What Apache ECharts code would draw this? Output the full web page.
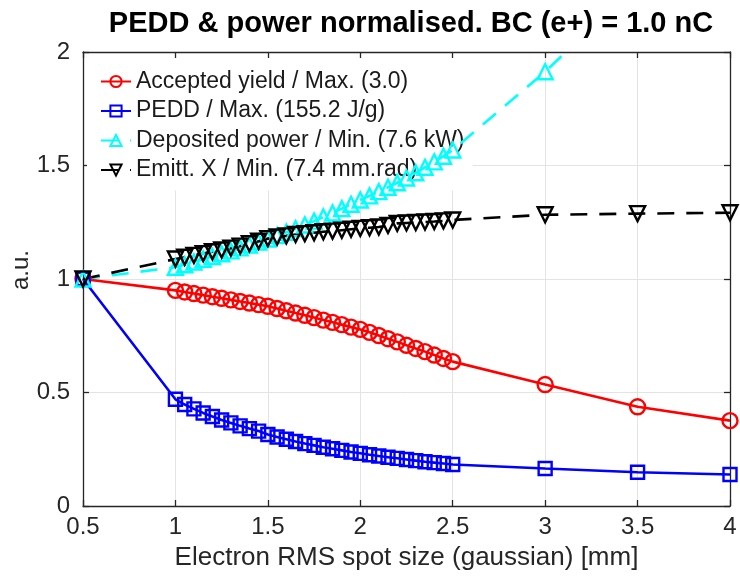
<!DOCTYPE html>
<html>
<head>
<meta charset="utf-8">
<script src="https://cdn.jsdelivr.net/npm/echarts@6/dist/echarts.min.js"></script>
<style>html,body{margin:0;padding:0;background:#fff;}#c{width:740px;height:580px;}</style>
</head>
<body>
<div id="c"></div>
<script>
const titleText = 'PEDD & power normalised. BC (e+) = 1.0 nC';
const xName = 'Electron RMS spot size (gaussian) [mm]';
const yName = 'a.u.';
const seriesNames = ['Accepted yield / Max. (3.0)', 'PEDD / Max. (155.2 J/g)', 'Deposited power / Min. (7.6 kW)', 'Emitt. X / Min. (7.4 mm.rad)'];

const spotSize = [0.5,
  1.00, 1.05, 1.10, 1.15, 1.20, 1.25, 1.30, 1.35, 1.40, 1.45,
  1.50, 1.55, 1.60, 1.65, 1.70, 1.75, 1.80, 1.85, 1.90, 1.95,
  2.00, 2.05, 2.10, 2.15, 2.20, 2.25, 2.30, 2.35, 2.40, 2.45,
  2.50, 3.0, 3.5, 4.0];

const acceptedYield = [1.000,
  0.950, 0.943, 0.936, 0.929, 0.922, 0.915, 0.908, 0.901, 0.894, 0.887,
  0.880, 0.870, 0.860, 0.850, 0.840, 0.830, 0.819, 0.809, 0.799, 0.788,
  0.778, 0.765, 0.751, 0.737, 0.723, 0.708, 0.694, 0.680, 0.665, 0.650,
  0.636, 0.535, 0.437, 0.376];

const pedd = [1.000,
  0.470, 0.447, 0.428, 0.410, 0.394, 0.379, 0.366, 0.353, 0.341, 0.330,
  0.315, 0.304, 0.294, 0.284, 0.275, 0.267, 0.259, 0.252, 0.245, 0.238,
  0.232, 0.226, 0.220, 0.215, 0.210, 0.205, 0.200, 0.195, 0.191, 0.187,
  0.183, 0.165, 0.149, 0.139];

const depPower = [1.000,
  1.052, 1.063, 1.075, 1.087, 1.099, 1.111, 1.124, 1.137, 1.150, 1.163,
  1.176, 1.191, 1.206, 1.222, 1.238, 1.255, 1.273, 1.291, 1.310, 1.329,
  1.348, 1.366, 1.385, 1.404, 1.424, 1.445, 1.468, 1.492, 1.516, 1.541,
  1.568, 1.913, 2.300, 2.720];

const emittX = [1.000,
  1.088, 1.096, 1.104, 1.112, 1.120, 1.128, 1.136, 1.145, 1.155, 1.166,
  1.178, 1.185, 1.190, 1.196, 1.200, 1.204, 1.208, 1.211, 1.215, 1.219,
  1.223, 1.226, 1.229, 1.236, 1.245, 1.247, 1.249, 1.251, 1.253, 1.256,
  1.260, 1.283, 1.288, 1.292];

const xTicks = {min: 0.5, max: 4, interval: 0.5};
const yTicks = {min: 0, max: 2, interval: 0.5};

const FONT = 'Liberation Sans';
const AX = '#262626';
const pairs = ys => spotSize.map((x, i) => [x, ys[i]]);

function mkSeries(name, ys, color, symbol, rotate, dashed) {
  return {
    name: name, type: 'line', data: pairs(ys), z: 3,
    symbol: symbol, symbolSize: symbol === 'rect' ? 13 : 15, symbolRotate: rotate,
    showSymbol: true, clip: true, animation: false,
    lineStyle: {color: color, width: 2.6, type: dashed ? [17, 12] : 'solid'},
    itemStyle: {color: 'rgba(255,255,255,0)', borderColor: color, borderWidth: 2.4}
  };
}

function xAx(pos, show) {
  return {
    type: 'value', position: pos, min: xTicks.min, max: xTicks.max, interval: xTicks.interval,
    name: show ? xName : '', nameLocation: 'middle', nameGap: 39, nameMoveOverlap: false,
    nameTextStyle: {fontFamily: FONT, fontSize: 26, color: AX},
    axisLine: {show: true, onZero: false, lineStyle: {color: AX, width: 1.3}},
    axisTick: {show: true, inside: true, length: 6, lineStyle: {color: AX, width: 1.3}},
    axisLabel: {show: show, fontFamily: FONT, fontSize: 24, color: AX, margin: 9},
    splitLine: {show: show, lineStyle: {color: '#e3e3e3', width: 1}}
  };
}
function yAx(pos, show) {
  return {
    type: 'value', position: pos, min: yTicks.min, max: yTicks.max, interval: yTicks.interval,
    name: show ? yName : '', nameLocation: 'middle', nameGap: 50, nameMoveOverlap: false,
    nameTextStyle: {fontFamily: FONT, fontSize: 24, color: AX, padding: [0, 0, 0, 18]},
    axisLine: {show: true, onZero: false, lineStyle: {color: AX, width: 1.3}},
    axisTick: {show: true, inside: true, length: 6, lineStyle: {color: AX, width: 1.3}},
    axisLabel: {show: show, fontFamily: FONT, fontSize: 24, color: AX, margin: 13},
    splitLine: {show: show, lineStyle: {color: '#e3e3e3', width: 1}}
  };
}

const chart = echarts.init(document.getElementById('c'), null, {renderer: 'canvas'});
chart.setOption({
  animation: false,
  backgroundColor: '#ffffff',
  title: {
    text: titleText, left: 406, top: 4, textAlign: 'center',
    textStyle: {fontFamily: FONT, fontSize: 29, fontWeight: 'bold', color: '#000'}
  },
  grid: {left: 83, right: 10, top: 52, bottom: 74, containLabel: false, outerBoundsMode: 'none'},
  xAxis: [xAx('bottom', true), xAx('top', false)],
  yAxis: [yAx('left', true), yAx('right', false)],
  legend: {
    orient: 'vertical', left: 87, top: 58, z: 1,
    backgroundColor: '#ffffff', padding: [11, 8, 8, 13],
    itemWidth: 30, itemHeight: 14, itemGap: 4.5,
    textStyle: {fontFamily: FONT, fontSize: 23, color: '#1a1a1a', lineHeight: 25},
    data: seriesNames
  },
  series: [
    mkSeries(seriesNames[0], acceptedYield, '#ff0000', 'circle', 0, false),
    mkSeries(seriesNames[1], pedd, '#0000ff', 'rect', 0, false),
    mkSeries(seriesNames[2], depPower, '#00ffff', 'triangle', 0, true),
    mkSeries(seriesNames[3], emittX, '#000000', 'triangle', 180, true)
  ]
});
</script>
</body>
</html>
